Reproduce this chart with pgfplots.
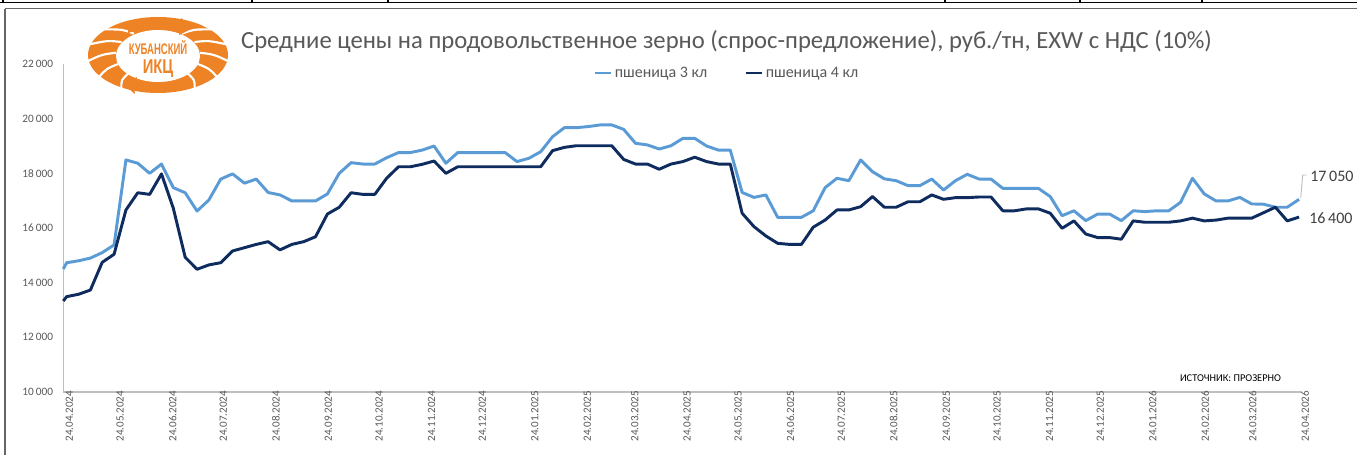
\documentclass[border=0pt]{standalone}
\usepackage{pgfplots}
\pgfplotsset{compat=1.18}
\usepackage{pgfplotstable}
\usepackage{fontspec}
\setmainfont{Carlito}
\newfontfamily\logofont{Liberation Sans}
\definecolor{lb}{HTML}{5B9BD5}
\definecolor{db}{HTML}{0F2C5E}
\definecolor{txt}{HTML}{595959}
\definecolor{txtd}{HTML}{404040}
\definecolor{org}{HTML}{EE8325}
\definecolor{axg}{HTML}{BFBFBF}

\pgfplotstableread{
d a b
0 14500 13330
2 14730 13490
9 14800 13575
16 14900 13730
23 15100 14745
30 15380 15040
37 18490 16660
44 18370 17290
51 18000 17230
58 18340 17980
65 17475 16720
72 17290 14930
79 16620 14490
86 17025 14650
93 17790 14730
100 17980 15160
107 17640 15280
114 17790 15400
121 17300 15500
128 17210 15200
135 16990 15400
142 16990 15500
149 16990 15680
156 17245 16510
163 18000 16760
170 18390 17290
177 18340 17230
184 18340 17230
191 18570 17820
198 18760 18240
205 18760 18240
212 18850 18330
219 19000 18450
226 18370 18000
233 18760 18240
240 18760 18240
247 18760 18240
254 18760 18240
261 18760 18240
268 18430 18240
275 18550 18240
282 18790 18240
289 19340 18830
296 19670 18950
303 19670 19010
310 19710 19010
317 19770 19010
324 19770 19010
331 19610 18510
338 19100 18340
345 19040 18340
352 18890 18150
359 19010 18340
366 19280 18430
373 19280 18590
380 19000 18430
387 18850 18340
394 18850 18340
401 17300 16540
408 17120 16050
415 17210 15710
422 16390 15440
429 16390 15400
436 16390 15400
443 16630 16030
450 17475 16290
457 17820 16660
464 17730 16660
471 18490 16780
478 18060 17150
485 17800 16760
492 17730 16760
499 17550 16960
506 17550 16960
513 17790 17210
520 17390 17050
527 17730 17110
534 17965 17110
541 17790 17135
548 17790 17135
555 17450 16630
562 17450 16630
569 17450 16700
576 17450 16700
583 17150 16540
590 16450 15990
597 16630 16260
604 16270 15780
611 16510 15650
618 16510 15650
625 16270 15590
632 16630 16260
639 16600 16210
646 16630 16210
653 16630 16210
660 16940 16260
667 17820 16360
674 17245 16260
681 16990 16290
688 16990 16360
695 17120 16360
702 16880 16360
709 16870 16560
716 16760 16760
723 16760 16260
730 17050 16400
}\prices

\begin{document}
\begin{tikzpicture}[x=0.75pt,y=0.75pt]
\useasboundingbox (0,0) rectangle (1357,455);
\fill[white] (0,0) rectangle (1357,455);
% frame remnants
\draw[black, line width=1.1pt] (0,452.6) -- (1357,452.6);
\foreach \xx in {3,252,388,945,1080,1202} \draw[black,line width=1.1pt] (\xx,452.6) -- (\xx,455);
\draw[black!60, line width=1pt] (5,446.3) -- (1357,446.3);
\draw[black!60, line width=1.1pt] (5,446.3) -- (5,0);

% logo
\begin{scope}[shift={(158,400)}]
\fill[org] (0,0) ellipse [x radius=70, y radius=38];
\fill[white] (0,-1) ellipse [x radius=42, y radius=26];
\foreach \a in {125,150,175,200,225} {
  \draw[white, line width=1.6pt] ({42*cos(\a)},{26*sin(\a)}) .. controls ({56*cos(\a+4)},{33*sin(\a+4)}) .. ({71*cos(\a+14)},{39*sin(\a+14)});
}
\foreach \a in {55,30,5,-20,-45} {
  \draw[white, line width=1.6pt] ({42*cos(\a)},{26*sin(\a)}) .. controls ({56*cos(\a-4)},{33*sin(\a-4)}) .. ({71*cos(\a-14)},{39*sin(\a-14)});
}
\fill[org] (-30,26) .. controls (-10,33) and (10,34) .. (24,31) -- (23,37) -- (35,27) -- (21,20) -- (22,26) .. controls (8,29) and (-10,28) .. (-30,22) -- cycle;
\fill[org] (30,-28) .. controls (10,-35) and (-10,-36) .. (-24,-33) -- (-23,-39) -- (-35,-29) -- (-21,-22) -- (-22,-28) .. controls (-8,-31) and (10,-30) .. (30,-24) -- cycle;
\node[text=org, font=\logofont\bfseries\fontsize{11.5}{12}\selectfont, xscale=0.62, inner sep=0pt] at (0,7) {КУБАНСКИЙ};
\node[text=org, font=\logofont\bfseries\fontsize{15}{16}\selectfont, xscale=0.74, inner sep=0pt] at (0,-14) {ИКЦ};
\end{scope}

% title
\node[text=txt, font=\fontsize{18.5}{22}\selectfont, inner sep=0pt] at (726.5,413) {Средние цены на продовольственное зерно (спрос-предложение), руб./тн, EXW с НДС (10\%)};

\begin{axis}[
  at={(47.475pt,47.25pt)}, anchor=south west, scale only axis,
  width=929pt, height=246pt,
  xmin=0, xmax=731.7, ymin=10000, ymax=22000,
  scaled y ticks=false,
  axis x line=bottom, axis y line=left,
  axis line style={draw=axg, line width=0.8pt, -},
  major tick length=0pt,
  ytick={10000,12000,14000,16000,18000,20000,22000},
  yticklabels={10\,000,12\,000,14\,000,16\,000,18\,000,20\,000,22\,000},
  yticklabel style={font=\fontsize{8.5}{10}\selectfont, text=txt, anchor=east, inner sep=0pt, xshift=-7.5pt},
  xtick={0,30,61,91,122,153,183,214,244,275,306,334,365,395,426,456,487,518,548,579,609,640,671,699,730},
  xticklabels={24.04.2024,24.05.2024,24.06.2024,24.07.2024,24.08.2024,24.09.2024,24.10.2024,24.11.2024,24.12.2024,24.01.2025,24.02.2025,24.03.2025,24.04.2025,24.05.2025,24.06.2025,24.07.2025,24.08.2025,24.09.2025,24.10.2025,24.11.2025,24.12.2025,24.01.2026,24.02.2026,24.03.2026,24.04.2026},
  xticklabel style={font=\fontsize{8.3}{9}\selectfont, text=txt, rotate=90, anchor=east, inner sep=0pt, yshift=-4.5pt, xshift=1pt},
  clip=false,
  legend style={at={(axis description cs:0.536,0.9726)}, anchor=center, draw=none, fill=none,
    font=\fontsize{12}{14}\selectfont, text=txt, inner sep=0pt,
    /tikz/every even column/.append style={column sep=26pt}},
  legend columns=2,
  legend image code/.code={\draw[#1, line width=1.9pt] (0pt,0pt) -- (12pt,0pt);},
]
\addplot[lb, line width=2.2pt, line join=round] table[x=d, y=a] {\prices};
\addlegendentry{пшеница 3 кл}
\addplot[db, line width=2.2pt, line join=round] table[x=d, y=b] {\prices};
\addlegendentry{пшеница 4 кл}
\end{axis}

% end labels
\draw[axg, line width=0.7pt] (1300.7,257) -- (1302.7,280) -- (1306.7,280);
\node[text=txtd, font=\fontsize{12}{14}\selectfont, anchor=west, inner sep=0pt] at (1310,279) {17\,050};
\node[text=txtd, font=\fontsize{12}{14}\selectfont, anchor=west, inner sep=0pt] at (1309,237.3) {16\,400};
% source
\node[text=black, font=\fontsize{7.8}{9}\selectfont, inner sep=0pt] at (1230.5,77) {ИСТОЧНИК: ПРОЗЕРНО};
\end{tikzpicture}
\end{document}
